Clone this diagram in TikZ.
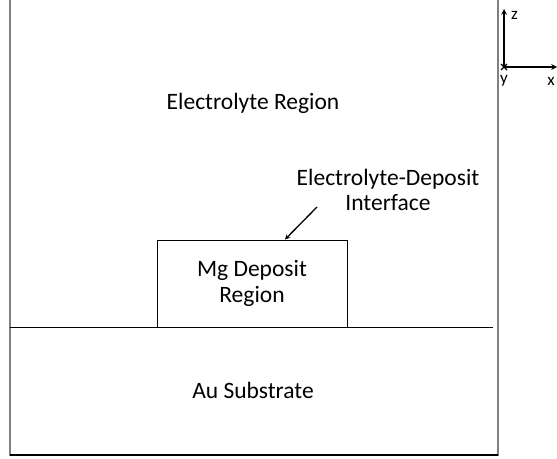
\documentclass[tikz,border=0pt]{standalone}
\usepackage{fontspec}
\setmainfont{Carlito}
\usetikzlibrary{positioning}

\begin{document}
\begin{tikzpicture}[x=1pt,y=-1pt,>=stealth,
  region/.style={font=\fontsize{23.5}{25.5}\selectfont, align=center},
  axislabel/.style={font=\fontsize{17}{18}\selectfont, inner sep=1pt},
  wall/.style={draw=gray, line width=2pt}]
\useasboundingbox (0,0) rectangle (557,458);
\draw[wall] (10,0) -- (10,456);
\draw[wall] (498,0) -- (498,456);
\draw[line width=1.5pt] (10,455) -- (498,455);
\draw[line width=1pt] (10,327) -- (493,327);
\node[region, draw, line width=1pt, fill=white, minimum width=190pt, minimum height=87pt, inner sep=0pt] (mg) at (252,283.5) {Mg Deposit\\Region};
\node[region] (electrolyte) at (253,103) {Electrolyte Region};
\node[region] (substrate) at (253,390) {Au Substrate};
\node[region] (iface) at (388,190) {Electrolyte-Deposit\\Interface};
\coordinate (tail) at (317,207);
\draw[->, line width=1.3pt] (tail) -- ([xshift=33pt]mg.north);
% coordinate axes
\coordinate (origin) at (504,67);
\coordinate (zend) at (504,9);
\coordinate (xend) at (557,67);
\draw[->, line width=1.5pt] (origin) -- (zend);
\draw[->, line width=1.5pt] (origin) -- (xend);
\draw[line width=1.2pt] (origin) +(-3,-3) -- +(3,3) +(-3,3) -- +(3,-3);
\node[axislabel, anchor=west] (zlabel) at (510,15) {z};
\node[axislabel] (ylabel) at (504,81) {y};
\node[axislabel] (xlabel) at (551,81) {x};
\end{tikzpicture}
\end{document}
